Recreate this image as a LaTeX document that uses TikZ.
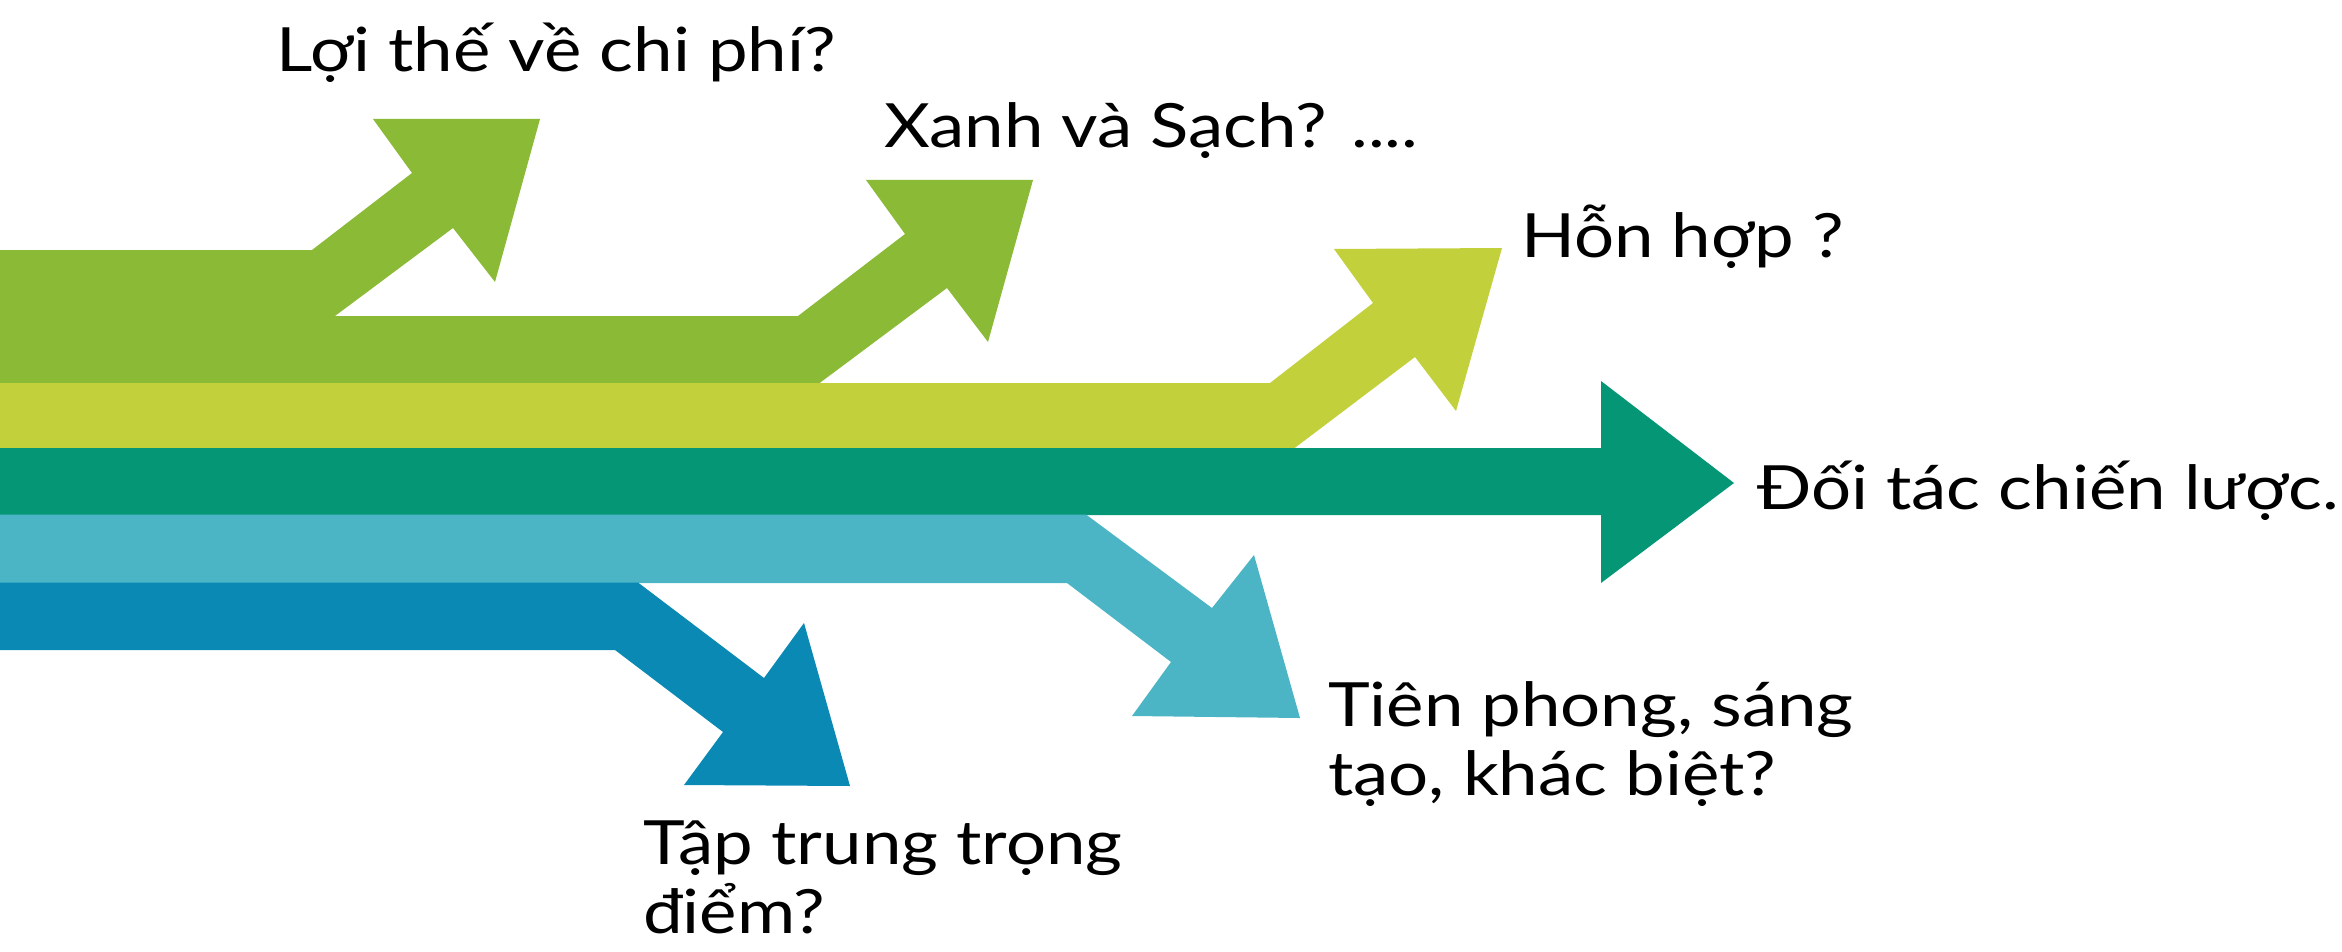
\documentclass[tikz,border=0pt]{standalone}
\usepackage{fontspec}
\setmainfont{Lato}[FakeStretch=1.16]
\definecolor{cgreen}{RGB}{139,186,55}
\definecolor{cyellow}{RGB}{194,208,59}
\definecolor{cteal}{RGB}{4,150,117}
\definecolor{clight}{RGB}{75,181,198}
\definecolor{cdark}{RGB}{10,137,180}
\begin{document}
\begin{tikzpicture}[x=1pt,y=-1pt,
  lbl/.style={inner sep=0pt,anchor=base west,align=left,font=\fontsize{61}{69}\selectfont}]
\useasboundingbox (0,0) rectangle (2342,952);
% green double arrow
\fill[cgreen] (0,250) -- (312,250) -- (412,173) -- (373,119) -- (540,119) -- (495,282) -- (453,228) -- (335,316)
  -- (798,316) -- (905,234) -- (866,180) -- (1033,180) -- (988,342) -- (947,288) -- (819,383.5) -- (0,383.5) -- cycle;
% yellow-green arrow
\fill[cyellow] (0,383) -- (1270,383) -- (1373,303) -- (1334,249) -- (1502,248) -- (1456,411) -- (1415,357) -- (1294,448.5) -- (0,448.5) -- cycle;
% teal arrow
\fill[cteal] (0,448) -- (1601,448) -- (1601,381) -- (1734,483) -- (1601,583) -- (1601,515) -- (0,515) -- cycle;
% light blue arrow
\fill[clight] (0,514.5) -- (1086,514.5) -- (1212,608) -- (1254,555) -- (1300,718) -- (1132,716) -- (1171,662) -- (1067,583) -- (0,583) -- cycle;
% dark blue arrow
\fill[cdark] (0,582.5) -- (638,582.5) -- (764,678) -- (804,623) -- (850,786) -- (684,785) -- (723,732) -- (615,650) -- (0,650) -- cycle;
% labels
\node[lbl] (t1) at (276,72) {Lợi thế về chi phí?};
\node[lbl] (t2) at (884,148) {Xanh và Sạch? ....};
\node[lbl] (t3) at (1521,257) {Hỗn hợp ?};
\node[lbl] (t4) at (1757,509) {Đối tác chiến lược.};
\node[lbl] (t5) at (1328,795) {Tiên phong, sáng\\tạo, khác biệt?};
\node[lbl] (t6) at (643,933) {Tập trung trọng\\điểm?};
\end{tikzpicture}
\end{document}
